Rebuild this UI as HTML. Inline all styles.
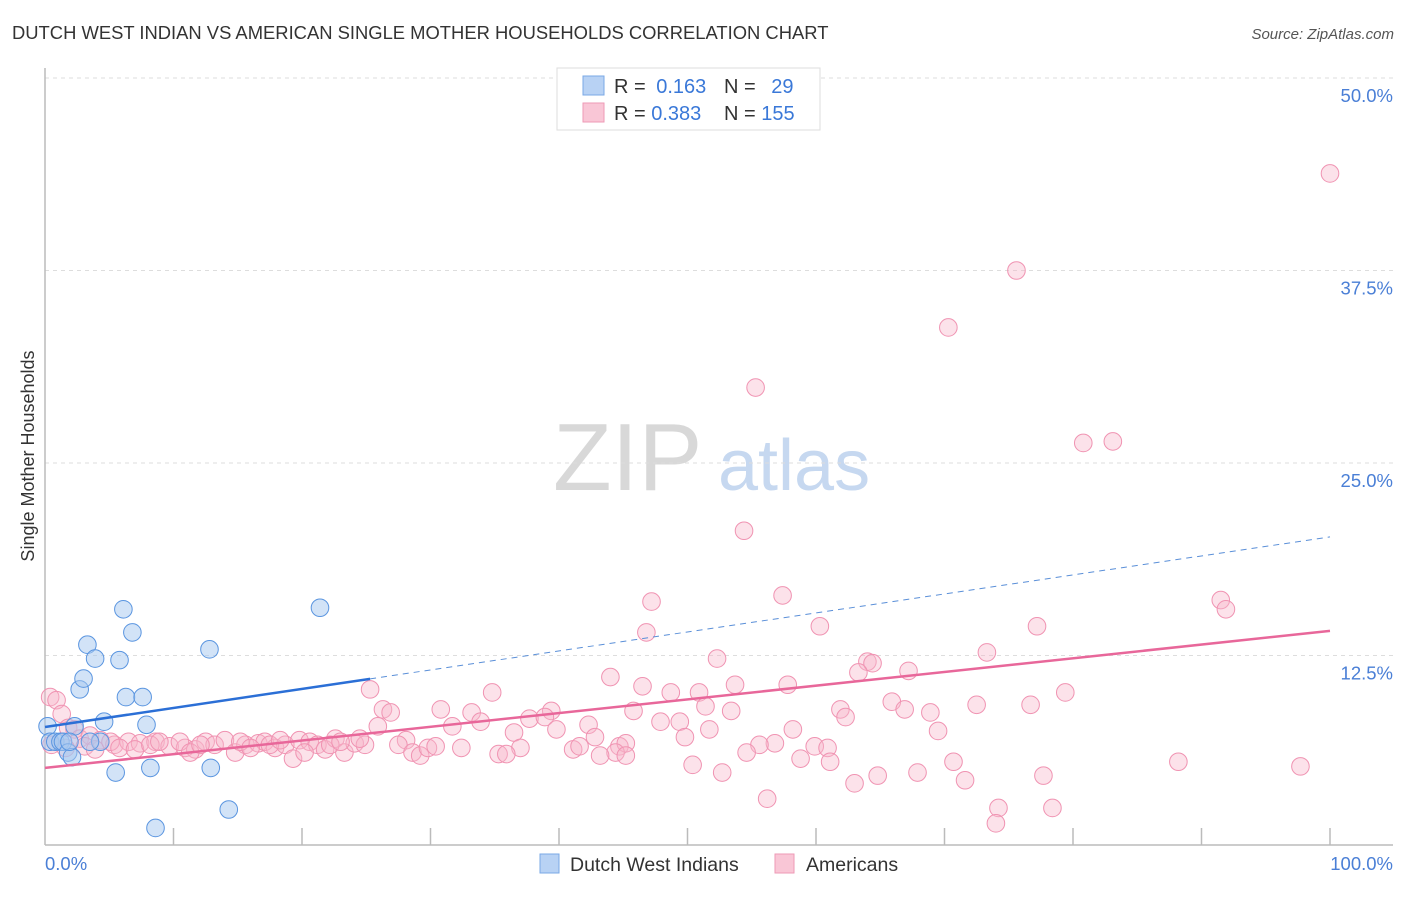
<!DOCTYPE html>
<html><head><meta charset="utf-8"><style>
body{margin:0;background:#fff;font-family:"Liberation Sans",sans-serif;}
svg text{font-family:"Liberation Sans",sans-serif;}
</style></head><body>
<svg id="chart" width="1406" height="892" xmlns="http://www.w3.org/2000/svg">
<text x="12" y="39" font-size="18.4" fill="#333">DUTCH WEST INDIAN VS AMERICAN SINGLE MOTHER HOUSEHOLDS CORRELATION CHART</text>
<text x="1394" y="39" font-size="15" fill="#555" font-style="italic" text-anchor="end">Source: ZipAtlas.com</text>
<text transform="translate(34,456) rotate(-90)" font-size="18" fill="#333" text-anchor="middle">Single Mother Households</text>
<g>
<text x="553" y="490" font-size="96" font-family="Liberation Serif,serif" fill="#d8d8d8">ZIP</text>
<text x="718" y="490" font-size="72" fill="#c6d8f0">atlas</text>
</g>
<g id="grid"></g>
<g id="marks"></g>
<g>
<rect x="557" y="68" width="263" height="62" fill="#fff" stroke="#ddd"/>
<rect x="583" y="76" width="21" height="19" fill="#b8d2f4" stroke="#7aa8e6"/>
<rect x="583" y="103" width="21" height="19" fill="#f9c6d6" stroke="#ee9ab6"/>
<text x="614" y="93" font-size="20" fill="#333">R = <tspan fill="#3a78d8" dx="5">0.163</tspan></text>
<text x="724" y="93" font-size="20" fill="#333">N = <tspan fill="#3a78d8" dx="10">29</tspan></text>
<text x="614" y="120" font-size="20" fill="#333">R = <tspan fill="#3a78d8">0.383</tspan></text>
<text x="724" y="120" font-size="20" fill="#333">N = <tspan fill="#3a78d8">155</tspan></text>
</g>
<g>
<rect x="540" y="854" width="19" height="19" fill="#b8d2f4" stroke="#7aa8e6"/>
<text x="570" y="871" font-size="19.5" fill="#333">Dutch West Indians</text>
<rect x="775" y="854" width="19" height="19" fill="#f9c6d6" stroke="#ee9ab6"/>
<text x="806" y="871" font-size="19.5" fill="#333">Americans</text>
</g>
</svg>
<script>
const yTicks=[12.5,25.0,37.5,50.0];
const xTickLabels=["0.0%","100.0%"];
const blueX=[0.2,0.4,0.8,1.2,1.4,1.8,2.1,2.3,2.7,3.0,3.3,3.9,4.6,5.5,5.8,6.1,6.3,6.8,7.6,7.9,8.2,8.6,12.8,12.9,14.3,21.4,4.3,3.5,1.9];
const blueY=[7.9,6.9,6.9,6.9,6.9,6.2,5.9,7.9,10.3,11.0,13.2,12.3,8.2,4.9,12.2,15.5,9.8,14.0,9.8,8.0,5.2,1.3,12.9,5.2,2.5,15.6,6.9,6.9,6.9];
const pinkX=[100,75.6,70.3,55.3,80.8,83.1,54.4,47.2,57.4,91.5,91.9,46.8,60.3,77.2,52.3,73.3,64.0,64.4,67.2,63.3,44.0,46.5,53.7,57.8,25.3,34.8,48.7,50.9,79.4,65.9,72.5,76.7,51.4,66.9,45.8,53.4,61.9,26.3,26.9,30.8,33.2,39.4,68.9,62.3,47.9,49.4,25.9,37.7,38.9,33.9,42.3,51.7,58.2,69.5,31.7,36.5,39.8,49.8,42.8,28.1,27.5,37.0,56.8,55.6,59.9,60.9,41.1,41.6,44.7,45.2,44.4,43.2,45.2,54.6,58.8,61.1,50.4,70.7,88.2,97.7,52.7,64.8,67.9,63.0,71.6,77.7,56.2,74.2,78.4,74.0,
0.4,0.9,1.3,1.8,2.3,2.7,3.5,4.3,5.4,6.5,7.4,8.6,9.7,10.9,11.7,12.5,13.2,14.0,14.8,15.6,16.6,17.1,17.9,18.7,19.3,19.8,20.6,21.2,21.8,22.6,23.3,24.1,24.9,28.6,29.2,29.8,30.4,32.4,35.3,35.9,0.5,1.6,3.1,3.9,5.1,5.8,7.0,8.2,8.9,10.5,11.3,12.1,15.2,16.0,17.5,18.3,20.2,22.2,23.0,24.5];
const pinkY=[43.8,37.5,33.8,29.9,26.3,26.4,20.6,16.0,16.4,16.1,15.5,14.0,14.4,14.4,12.3,12.7,12.1,12.0,11.5,11.4,11.1,10.5,10.6,10.6,10.3,10.1,10.1,10.1,10.1,9.5,9.3,9.3,9.2,9.0,8.9,8.9,9.0,9.0,8.8,9.0,8.8,8.9,8.8,8.5,8.2,8.2,7.9,8.4,8.5,8.2,8.0,7.7,7.7,7.6,7.9,7.5,7.7,7.2,7.2,7.0,6.7,6.5,6.8,6.7,6.6,6.5,6.4,6.6,6.6,6.8,6.2,6.0,6.0,6.2,5.8,5.6,5.4,5.6,5.6,5.3,4.9,4.7,4.9,4.2,4.4,4.7,3.2,2.6,2.6,1.6,
9.8,9.6,8.7,7.8,7.7,7.1,7.3,7.0,6.7,6.9,6.8,6.9,6.6,6.5,6.4,6.9,6.7,7.0,6.2,6.7,6.8,6.9,6.5,6.7,5.8,7.0,6.9,6.7,6.4,7.1,6.2,6.8,6.7,6.2,6.0,6.5,6.6,6.5,6.1,6.1,6.7,6.5,6.6,6.4,6.9,6.5,6.4,6.7,6.9,6.9,6.2,6.7,6.9,6.5,6.7,7.0,6.2,6.7,6.9,7.1];
const blueTrend=[7.86,20.2];
const pinkTrend=[5.2,14.1];
const blueSolidEnd=25.3;

const X=v=>45+v*12.85, Y=v=>848-v*15.4;
const NS="http://www.w3.org/2000/svg";
function mk(tag,attrs,parent){const e=document.createElementNS(NS,tag);for(const k in attrs)e.setAttribute(k,attrs[k]);parent.appendChild(e);return e;}
const grid=document.getElementById('grid'), marks=document.getElementById('marks');
yTicks.forEach(t=>{
  const l=mk('line',{x1:45,x2:1393,y1:Y(t),y2:Y(t),stroke:'#ddd','stroke-dasharray':'4,4'},grid);
  
  
  const tx=mk('text',{x:1393,y:Y(t)+24,'font-size':18.5,fill:'#4a7fd6','text-anchor':'end'},grid);
  tx.textContent=t.toFixed(1)+'%';
  
  
});
const ax=mk('line',{x1:45,x2:45,y1:68,y2:845,stroke:'#bbb','stroke-width':1.5},grid);


const bx=mk('line',{x1:45,x2:1393,y1:845,y2:845,stroke:'#bbb','stroke-width':1.5},grid);


for(let k=1;k<=10;k++){const t=mk('line',{x1:X(k*10),x2:X(k*10),y1:828,y2:845,stroke:'#bbb','stroke-width':1.5},grid);
  
  }
const xl0=mk('text',{x:45,y:870,'font-size':18.5,fill:'#4a7fd6'},grid);xl0.textContent=xTickLabels[0];


const xl1=mk('text',{x:1393,y:870,'font-size':18.5,fill:'#4a7fd6','text-anchor':'end'},grid);xl1.textContent=xTickLabels[1];


pinkX.forEach((v,i)=>{const c=mk('circle',{cx:X(v),cy:Y(pinkY[i]),r:8.8,fill:'rgba(248,182,202,0.4)',stroke:'#f093b2','stroke-width':1},marks);
  
  });
blueX.forEach((v,i)=>{const c=mk('circle',{cx:X(v),cy:Y(blueY[i]),r:8.8,fill:'rgba(166,200,240,0.5)',stroke:'#5a95e0','stroke-width':1},marks);
  
  });
const bt=v=>blueTrend[0]+(blueTrend[1]-blueTrend[0])*v/100;
const bl=mk('line',{x1:X(0),y1:Y(bt(0)),x2:X(blueSolidEnd),y2:Y(bt(blueSolidEnd)),stroke:'#2b6fd6','stroke-width':2.5},marks);


const bd=mk('line',{x1:X(blueSolidEnd),y1:Y(bt(blueSolidEnd)),x2:X(100),y2:Y(bt(100)),stroke:'#5a8fd8','stroke-width':1,'stroke-dasharray':'6,5'},marks);


const pl=mk('line',{x1:X(0),y1:Y(pinkTrend[0]),x2:X(100),y2:Y(pinkTrend[1]),stroke:'#e8679a','stroke-width':2.5},marks);


</script>
</body></html>
